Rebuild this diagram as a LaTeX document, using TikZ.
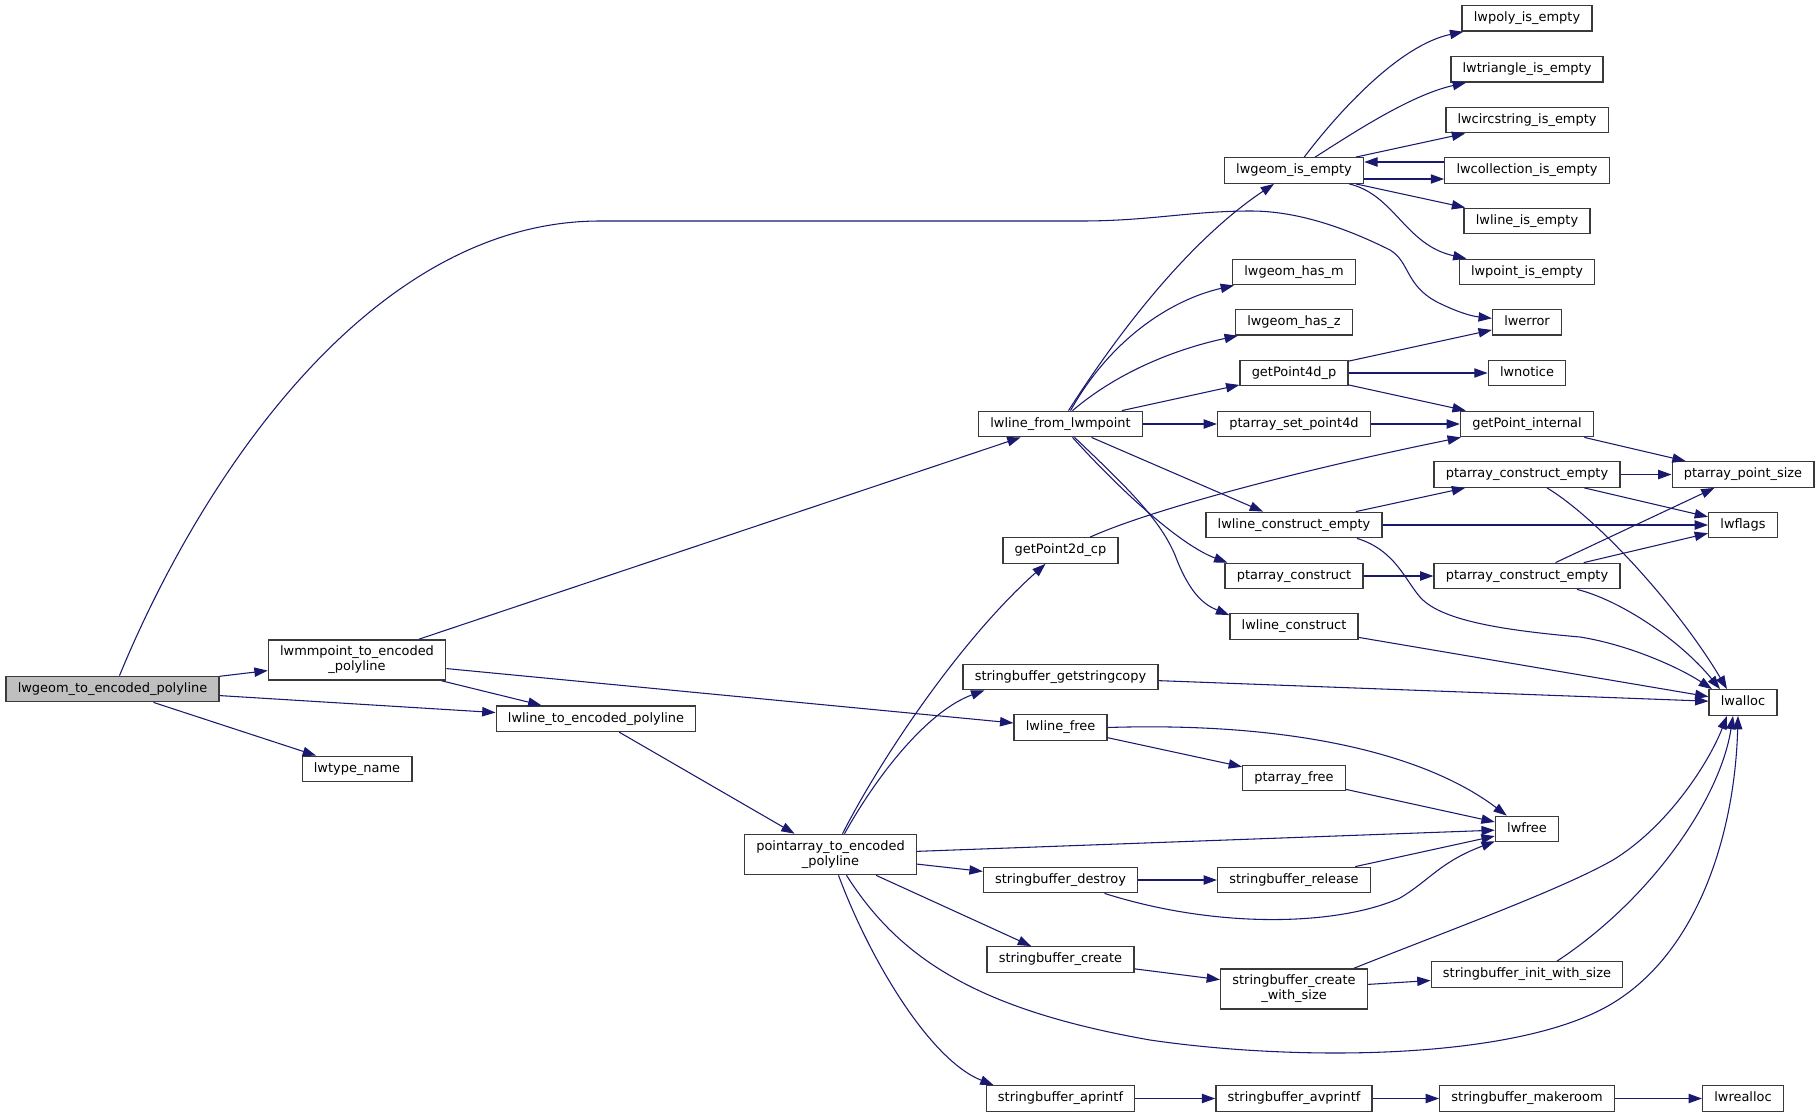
\documentclass[tikz,border=0pt]{standalone}
\usepackage{fontspec}
\setmainfont{DejaVu Sans}
\usetikzlibrary{arrows.meta,calc}
\definecolor{edgecol}{HTML}{191970}
\definecolor{boxborder}{HTML}{3A3A3A}
\definecolor{rootfill}{HTML}{BFBFBF}
\begin{document}
\begin{tikzpicture}[x=0.75pt,y=-0.75pt,
  nbox/.style={draw=boxborder, line width=1pt, fill=white, font=\fontsize{9.7}{11.3}\selectfont,
    inner xsep=8.8pt, inner ysep=0pt, minimum height=19.1pt, text height=7.3pt, text depth=2.2pt},
  nboxii/.style={draw=boxborder, line width=1pt, fill=white, font=\fontsize{9.7}{11.3}\selectfont,
    align=center, inner xsep=8.8pt, inner ysep=0pt, minimum height=30.2pt},
  conn/.style={draw=edgecol, line width=0.8pt, -{Triangle[length=10pt,width=7pt]}}]
\useasboundingbox (0,0) rectangle (1820,1117);
\fill[white] (0,0) rectangle (1820,1117);
% column 1
\node[nbox, fill=rootfill] (A) at (112.5,689) {lwgeom\_to\_encoded\_polyline};
% column 2
\node[nboxii] (B) at (357,660) {lwmmpoint\_to\_encoded\\\_polyline};
\node[nbox] (TN) at (357,769) {lwtype\_name};
% column 3
\node[nbox] (C) at (596,718.7) {lwline\_to\_encoded\_polyline};
% column 4
\node[nboxii] (P) at (830.5,854.5) {pointarray\_to\_encoded\\\_polyline};
% column 5
\node[nbox] (D) at (1060.5,424) {lwline\_from\_lwmpoint};
\node[nbox] (G2) at (1060.5,550.5) {getPoint2d\_cp};
\node[nbox] (SGC) at (1060.5,677) {stringbuffer\_getstringcopy};
\node[nbox] (LF) at (1060.5,727.5) {lwline\_free};
\node[nbox] (SD) at (1060.5,880) {stringbuffer\_destroy};
\node[nbox] (SC) at (1060.5,959.5) {stringbuffer\_create};
\node[nbox] (SA) at (1060.5,1098.5) {stringbuffer\_aprintf};
% column 6
\node[nbox] (LGE) at (1294,170.5) {lwgeom\_is\_empty};
\node[nbox] (HM) at (1294,272) {lwgeom\_has\_m};
\node[nbox] (HZ) at (1294,322.3) {lwgeom\_has\_z};
\node[nbox] (G4) at (1294,373) {getPoint4d\_p};
\node[nbox] (PS4) at (1294,424) {ptarray\_set\_point4d};
\node[nbox] (LCE) at (1294,525) {lwline\_construct\_empty};
\node[nbox] (PC) at (1294,576) {ptarray\_construct};
\node[nbox] (LC) at (1294,626.5) {lwline\_construct};
\node[nbox] (PF) at (1294,778) {ptarray\_free};
\node[nbox] (SR) at (1294,880) {stringbuffer\_release};
\node[nboxii] (SCW) at (1294,989) {stringbuffer\_create\\\_with\_size};
\node[nbox] (SAV) at (1294,1098.5) {stringbuffer\_avprintf};
% column 7
\node[nbox] (LPOLY) at (1527,18.3) {lwpoly\_is\_empty};
\node[nbox] (LTRI) at (1527,69.3) {lwtriangle\_is\_empty};
\node[nbox] (LCIRC) at (1527,120) {lwcircstring\_is\_empty};
\node[nbox] (LCOLL) at (1527,170.5) {lwcollection\_is\_empty};
\node[nbox] (LLINE) at (1527,221) {lwline\_is\_empty};
\node[nbox] (LPT) at (1527,272) {lwpoint\_is\_empty};
\node[nbox] (ERR) at (1527,322.3) {lwerror};
\node[nbox] (NOT) at (1527,373) {lwnotice};
\node[nbox] (GPI) at (1527,424) {getPoint\_internal};
\node[nbox] (PCE1) at (1527,474.5) {ptarray\_construct\_empty};
\node[nbox] (PCE2) at (1527,576) {ptarray\_construct\_empty};
\node[nbox] (FREE) at (1527,829) {lwfree};
\node[nbox] (SIW) at (1527,974.5) {stringbuffer\_init\_with\_size};
\node[nbox] (SMR) at (1527,1098.5) {stringbuffer\_makeroom};
% column 8
\node[nbox] (PPS) at (1743,474.5) {ptarray\_point\_size};
\node[nbox] (FLG) at (1743,525) {lwflags};
\node[nbox] (LA) at (1743,702.5) {lwalloc};
\node[nbox] (RE) at (1743,1098.5) {lwrealloc};

% edges from root
\draw[conn] (A) -- (B);
\draw[conn] (A) -- (C);
\draw[conn] (A) -- (TN);
\draw[conn] ($(A.north)+(7,0)$) .. controls (200,480) and (370,221) .. (600,221)
  -- (1081,221) .. controls (1150,221) and (1190,211) .. (1251,211)
  .. controls (1300,211) and (1350,230) .. (1390,250)
  .. controls (1410,262) and (1405,285) .. (1437,302)
  .. controls (1455,311) and (1470,316) .. ($(ERR.west)+(0,-4)$);
% lwmmpoint
\draw[conn] (B) -- (D);
\draw[conn] (B) -- (C);
\draw[conn] (B) -- (LF);
\draw[conn] (C) -- (P);
% lwline_from_lwmpoint
\draw[conn] ($(D.north)+(8,0)$) .. controls (1120,330) and (1190,240) .. ($(LGE.south)+(-20,0)$);
\draw[conn] ($(D.north)+(10,0)$) .. controls (1110,340) and (1170,300) .. ($(HM.south west)+(2,0)$);
\draw[conn] ($(D.north)+(12,0)$) .. controls (1120,370) and (1180,348) .. ($(HZ.south west)+(3,0)$);
\draw[conn] (D) -- (G4);
\draw[conn] (D) -- (PS4);
\draw[conn] (D) -- (LCE);
\draw[conn] ($(D.south)+(12,0)$) .. controls (1120,490) and (1180,545) .. ($(PC.north west)+(3,0)$);
\draw[conn] ($(D.south)+(14,0)$) .. controls (1130,490) and (1160,520) .. (1175,555)
  .. controls (1190,595) and (1205,605) .. ($(LC.north west)+(0,2)$);
% pointarray_to_encoded_polyline
\draw[conn] ($(P.north)+(12,0)$) .. controls (880,760) and (960,640) .. ($(G2.south)+(-15,0)$);
\draw[conn] ($(P.north)+(14,0)$) .. controls (880,770) and (930,710) .. ($(SGC.south west)+(22,0)$);
\draw[conn] (P) -- (FREE);
\draw[conn] (P) -- (SD);
\draw[conn] (P) -- (SC);
\draw[conn] ($(P.south)+(16,0)$) .. controls (900,960) and (980,1010) .. (1150,1040)
  .. controls (1300,1062) and (1520,1060) .. (1613,1003)
  .. controls (1700,950) and (1735,830) .. ($(LA.south)+(-5,0)$);
\draw[conn] ($(P.south)+(8,0)$) .. controls (870,960) and (930,1060) .. ($(SA.north west)+(8,0)$);
% column 5 others
\draw[conn] (G2) .. controls (1150,510) and (1300,470) .. (GPI);
\draw[conn] (SGC) -- (LA);
\draw[conn] (LF.east) .. controls (1280,722) and (1420,750) .. ($(FREE.north west)+(12,0)$);
\draw[conn] (LF) -- (PF);
\draw[conn] (SD) -- (SR);
\draw[conn] ($(SD.south)+(44,0)$) .. controls (1220,930) and (1340,925) .. (1400,898)
  .. controls (1430,880) and (1440,862) .. ($(FREE.south west)+(0,-1)$);
\draw[conn] (SC) -- (SCW);
\draw[conn] (SA) -- (SAV);
% lwgeom_is_empty
\draw[conn] (LGE) .. controls (1340,110) and (1400,45) .. (LPOLY);
\draw[conn] (LGE) .. controls (1350,135) and (1410,95) .. (LTRI);
\draw[conn] (LGE) -- (LCIRC);
\draw[conn] ($(LGE.east)+(0,8.5)$) -- ($(LCOLL.west)+(0,8.5)$);
\draw[conn] ($(LCOLL.west)+(0,-8.5)$) -- ($(LGE.east)+(0,-8.5)$);
\draw[conn] (LGE) -- (LLINE);
\draw[conn] (LGE) .. controls (1395,195) and (1405,245) .. (LPT);
% column 6 others
\draw[conn] (G4) -- (ERR);
\draw[conn] (G4) -- (NOT);
\draw[conn] (G4) -- (GPI);
\draw[conn] (PS4) -- (GPI);
\draw[conn] (LCE) -- (PCE1);
\draw[conn] (LCE) -- (FLG);
\draw[conn] ($(LCE.south)+(63,0)$) .. controls (1395,550) and (1405,580) .. (1420,597)
  .. controls (1440,620) and (1500,630) .. (1580,637)
  .. controls (1630,645) and (1680,668) .. ($(LA.north)+(-31,0)$);
\draw[conn] (PC) -- (PCE2);
\draw[conn] (LC) -- (LA);
\draw[conn] (PF) -- (FREE);
\draw[conn] (SR) -- (FREE);
\draw[conn] (SCW) -- (SIW);
\draw[conn] ($(SCW.north)+(60,0)$) .. controls (1450,930) and (1560,890) .. (1613,860)
  .. controls (1670,825) and (1710,760) .. ($(LA.south)+(-16,0)$);
\draw[conn] (SAV) -- (SMR);
% column 7
\draw[conn] ($(SIW.north)+(30,0)$) .. controls (1650,900) and (1720,800) .. ($(LA.south)+(-10,0)$);
\draw[conn] (SMR) -- (RE);
\draw[conn] (GPI) -- (PPS);
\draw[conn] (PCE1) -- (PPS);
\draw[conn] (PCE1) -- (FLG);
\draw[conn] ($(PCE1.south)+(20,0)$) .. controls (1600,520) and (1680,610) .. ($(LA.north)+(-16,0)$);
\draw[conn] (PCE2) -- (PPS);
\draw[conn] (PCE2) -- (FLG);
\draw[conn] ($(PCE2.south)+(50,0)$) .. controls (1620,600) and (1680,640) .. ($(LA.north)+(-23,0)$);
\end{tikzpicture}
\end{document}
